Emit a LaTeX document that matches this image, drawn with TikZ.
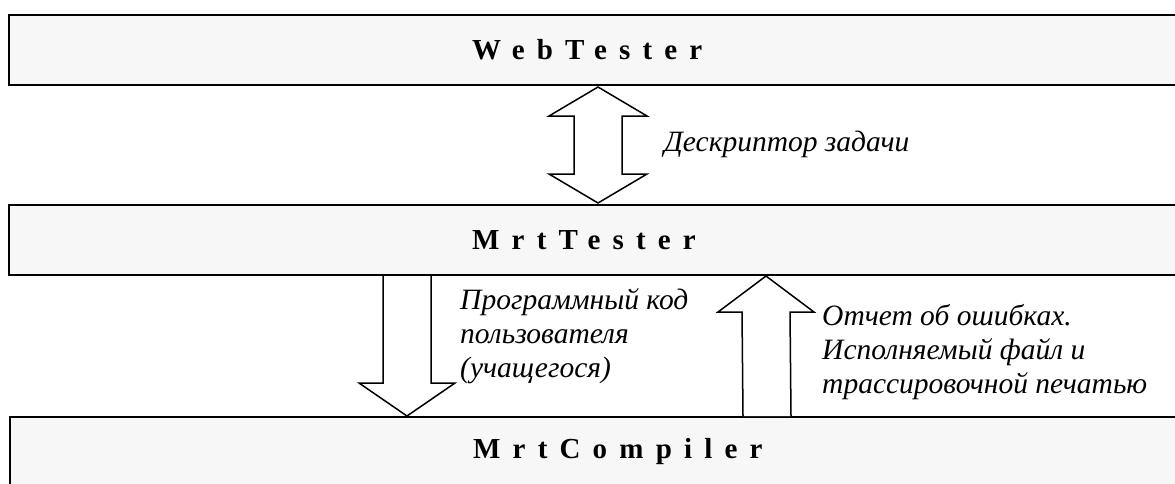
\documentclass[tikz,border=0pt]{standalone}
\usepackage{fontspec}
\setmainfont{Liberation Serif}
\newfontfamily\spacedfont[LetterSpace=42]{Liberation Serif}
\usetikzlibrary{calc}

\begin{document}
\begin{tikzpicture}[x=1pt, y=-1pt,
  layer/.style={draw, line width=2pt, fill=gray!6, minimum width=1180pt, minimum height=70pt, anchor=north west, inner sep=0pt},
  title/.style={font=\spacedfont\bfseries\fontsize{29}{32}\selectfont, anchor=west, inner sep=0pt},
  lbl/.style={font=\itshape\fontsize{29.5}{34}\selectfont, align=left, anchor=west, inner sep=0pt},
  blk/.style={draw, fill=white, line width=1.5pt, line join=miter}
]
\useasboundingbox (0,0) rectangle (1175,483);
% 三个层框,右边超出画面
\node[layer] (web) at (8,14) {};
\node[layer] (mrt) at (8,204) {};
\node[layer] (comp) at (9,416) {};
\node[title] (webname) at ($(web.west)+(464,0)$) {WebTester};
\node[title] (mrtname) at ($(mrt.west)+(464,0)$) {MrtTester};
\node[title] (compname) at ($(comp.west)+(464,0)$) {MrtCompiler};
% 块状箭头的端点
\coordinate (dt) at ($(web.south west)+(590,1)$);
\coordinate (db) at ($(mrt.north west)+(590,-1)$);
\coordinate (ds) at ($(mrt.south west)+(399,0)$);
\coordinate (de) at ($(comp.north west)+(398,0)$);
\coordinate (ut) at ($(mrt.south west)+(758,0)$);
\coordinate (ub) at ($(comp.north west)+(758,0)$);
% 双向箭头 web <-> mrt
\draw[blk] (dt) -- ($(dt)+(49,29)$) -- ($(dt)+(24,29)$) -- ($(db)+(24,-29)$) -- ($(db)+(49,-29)$) -- (db)
  -- ($(db)+(-49,-29)$) -- ($(db)+(-24,-29)$) -- ($(dt)+(-24,29)$) -- ($(dt)+(-49,29)$) -- cycle;
% 向下箭头 mrt -> comp
\draw[blk] ($(ds)+(-24,0)$) -- ($(de)+(-24,-33)$) -- ($(de)+(-48,-33)$) -- (de) -- ($(de)+(48,-33)$) -- ($(de)+(24,-33)$) -- ($(ds)+(24,0)$);
% 向上箭头 comp -> mrt
\draw[blk] ($(ub)+(-24,0)$) -- ($(ut)+(-24,36)$) -- ($(ut)+(-48,36)$) -- (ut) -- ($(ut)+(48,36)$) -- ($(ut)+(24,36)$) -- ($(ub)+(24,0)$);
% 标注
\node[lbl] (task) at ($(dt)+(66,57)$) {Дескриптор задачи};
\node[lbl] (code) at ($(ds)+(53,60)$) {Программный код\\пользователя\\(учащегося)};
\node[lbl] (report) at ($(ut)+(56,76)$) {Отчет об ошибках.\\Исполняемый файл и\\трассировочной печатью};
\end{tikzpicture}
\end{document}
